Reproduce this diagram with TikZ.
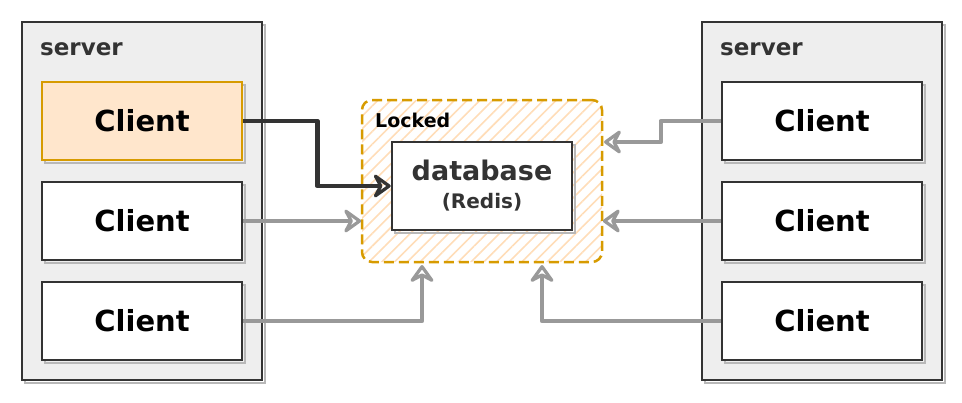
\documentclass[tikz,border=0pt]{standalone}
\usepackage{fontspec}
\setmainfont{DejaVu Sans}
\usetikzlibrary{arrows.meta,shadows,patterns.meta}
\definecolor{ink}{HTML}{333333}
\definecolor{serverfill}{HTML}{EEEEEE}
\definecolor{lockborder}{HTML}{D79B00}
\definecolor{lockfill}{HTML}{FFE6CC}
\definecolor{lockhatch}{HTML}{FFDDB8}
\definecolor{wiregray}{HTML}{999999}
\tikzstyle{sketch} = [general shadow={draw=black!28, line width=2pt,
    shadow xshift=3pt, shadow yshift=-3pt}]
\tikzstyle{serverbox} = [sketch, draw=ink, fill=serverfill, line width=2.5pt,
    rectangle, inner sep=0pt, minimum width=240, minimum height=358]
\tikzstyle{clientbox} = [sketch, draw=ink, fill=white, line width=2.5pt,
    rectangle, inner sep=0pt, minimum width=200, minimum height=78,
    font=\bfseries\fontsize{29}{33}\selectfont]
\tikzstyle{activebox} = [clientbox, draw=lockborder, fill=lockfill]
\tikzstyle{lockzone} = [draw=lockborder, line width=2.5pt, dash pattern=on 10pt off 5pt,
    rounded corners=10pt, pattern={Lines[angle=45,distance=9pt,line width=1.6pt]},
    pattern color=lockhatch, inner sep=0pt, minimum width=240, minimum height=162]
\tikzstyle{dbbox} = [sketch, draw=ink, fill=white, line width=2.5pt, rectangle,
    inner sep=0pt, minimum width=180, minimum height=88, align=center, text=ink,
    font=\bfseries\fontsize{27}{29}\selectfont]
\tikzstyle{servertitle} = [anchor=base west, inner sep=0pt, text=ink,
    font=\bfseries\fontsize{23}{26}\selectfont]
\tikzstyle{wire} = [line width=4.5pt, draw=wiregray, line join=round,
    -{Stealth[open,round,length=21pt,width=30pt,inset=8pt]}]
\tikzstyle{darkwire} = [wire, draw=ink]

\begin{document}
\begin{tikzpicture}[x=1pt,y=-1pt]
    \useasboundingbox (0,0) rectangle (962,402);
    \node [serverbox] (serverL) at (142,201) {};
    \node [serverbox] (serverR) at (822,201) {};
    \node [servertitle] at (40,55) {server};
    \node [servertitle] at (720,55) {server};
    \node [activebox] (client1) at (142,121) {Client};
    \node [clientbox] (client2) at (142,221) {Client};
    \node [clientbox] (client3) at (142,321) {Client};
    \node [clientbox] (client4) at (822,121) {Client};
    \node [clientbox] (client5) at (822,221) {Client};
    \node [clientbox] (client6) at (822,321) {Client};
    \node [lockzone] (lock) at (482,181) {};
    \node [anchor=base west, inner sep=0pt, font=\bfseries\fontsize{19}{22}\selectfont]
        (locktitle) at (375,127) {Locked};
    \node [dbbox] (db) at (482,186) {database\\[-1pt]{\fontsize{20}{22}\selectfont (Redis)}};
    \coordinate (lockin3) at (422,265);
    \coordinate (lockin4) at (542,265);
    \coordinate (lockin1) at (604,142);
    \draw [darkwire] (client1.east) -- ++(74,0) |- (db.west);
    \draw [wire] (client2.east) -- (client2.east -| lock.west);
    \draw [wire] (client3.east) -| (lockin3);
    \draw [wire] (client4.west) -- ++(-60,0) |- (lockin1);
    \draw [wire] (client5.west) -- (client5.west -| lock.east);
    \draw [wire] (client6.west) -| (lockin4);
\end{tikzpicture}
\end{document}
